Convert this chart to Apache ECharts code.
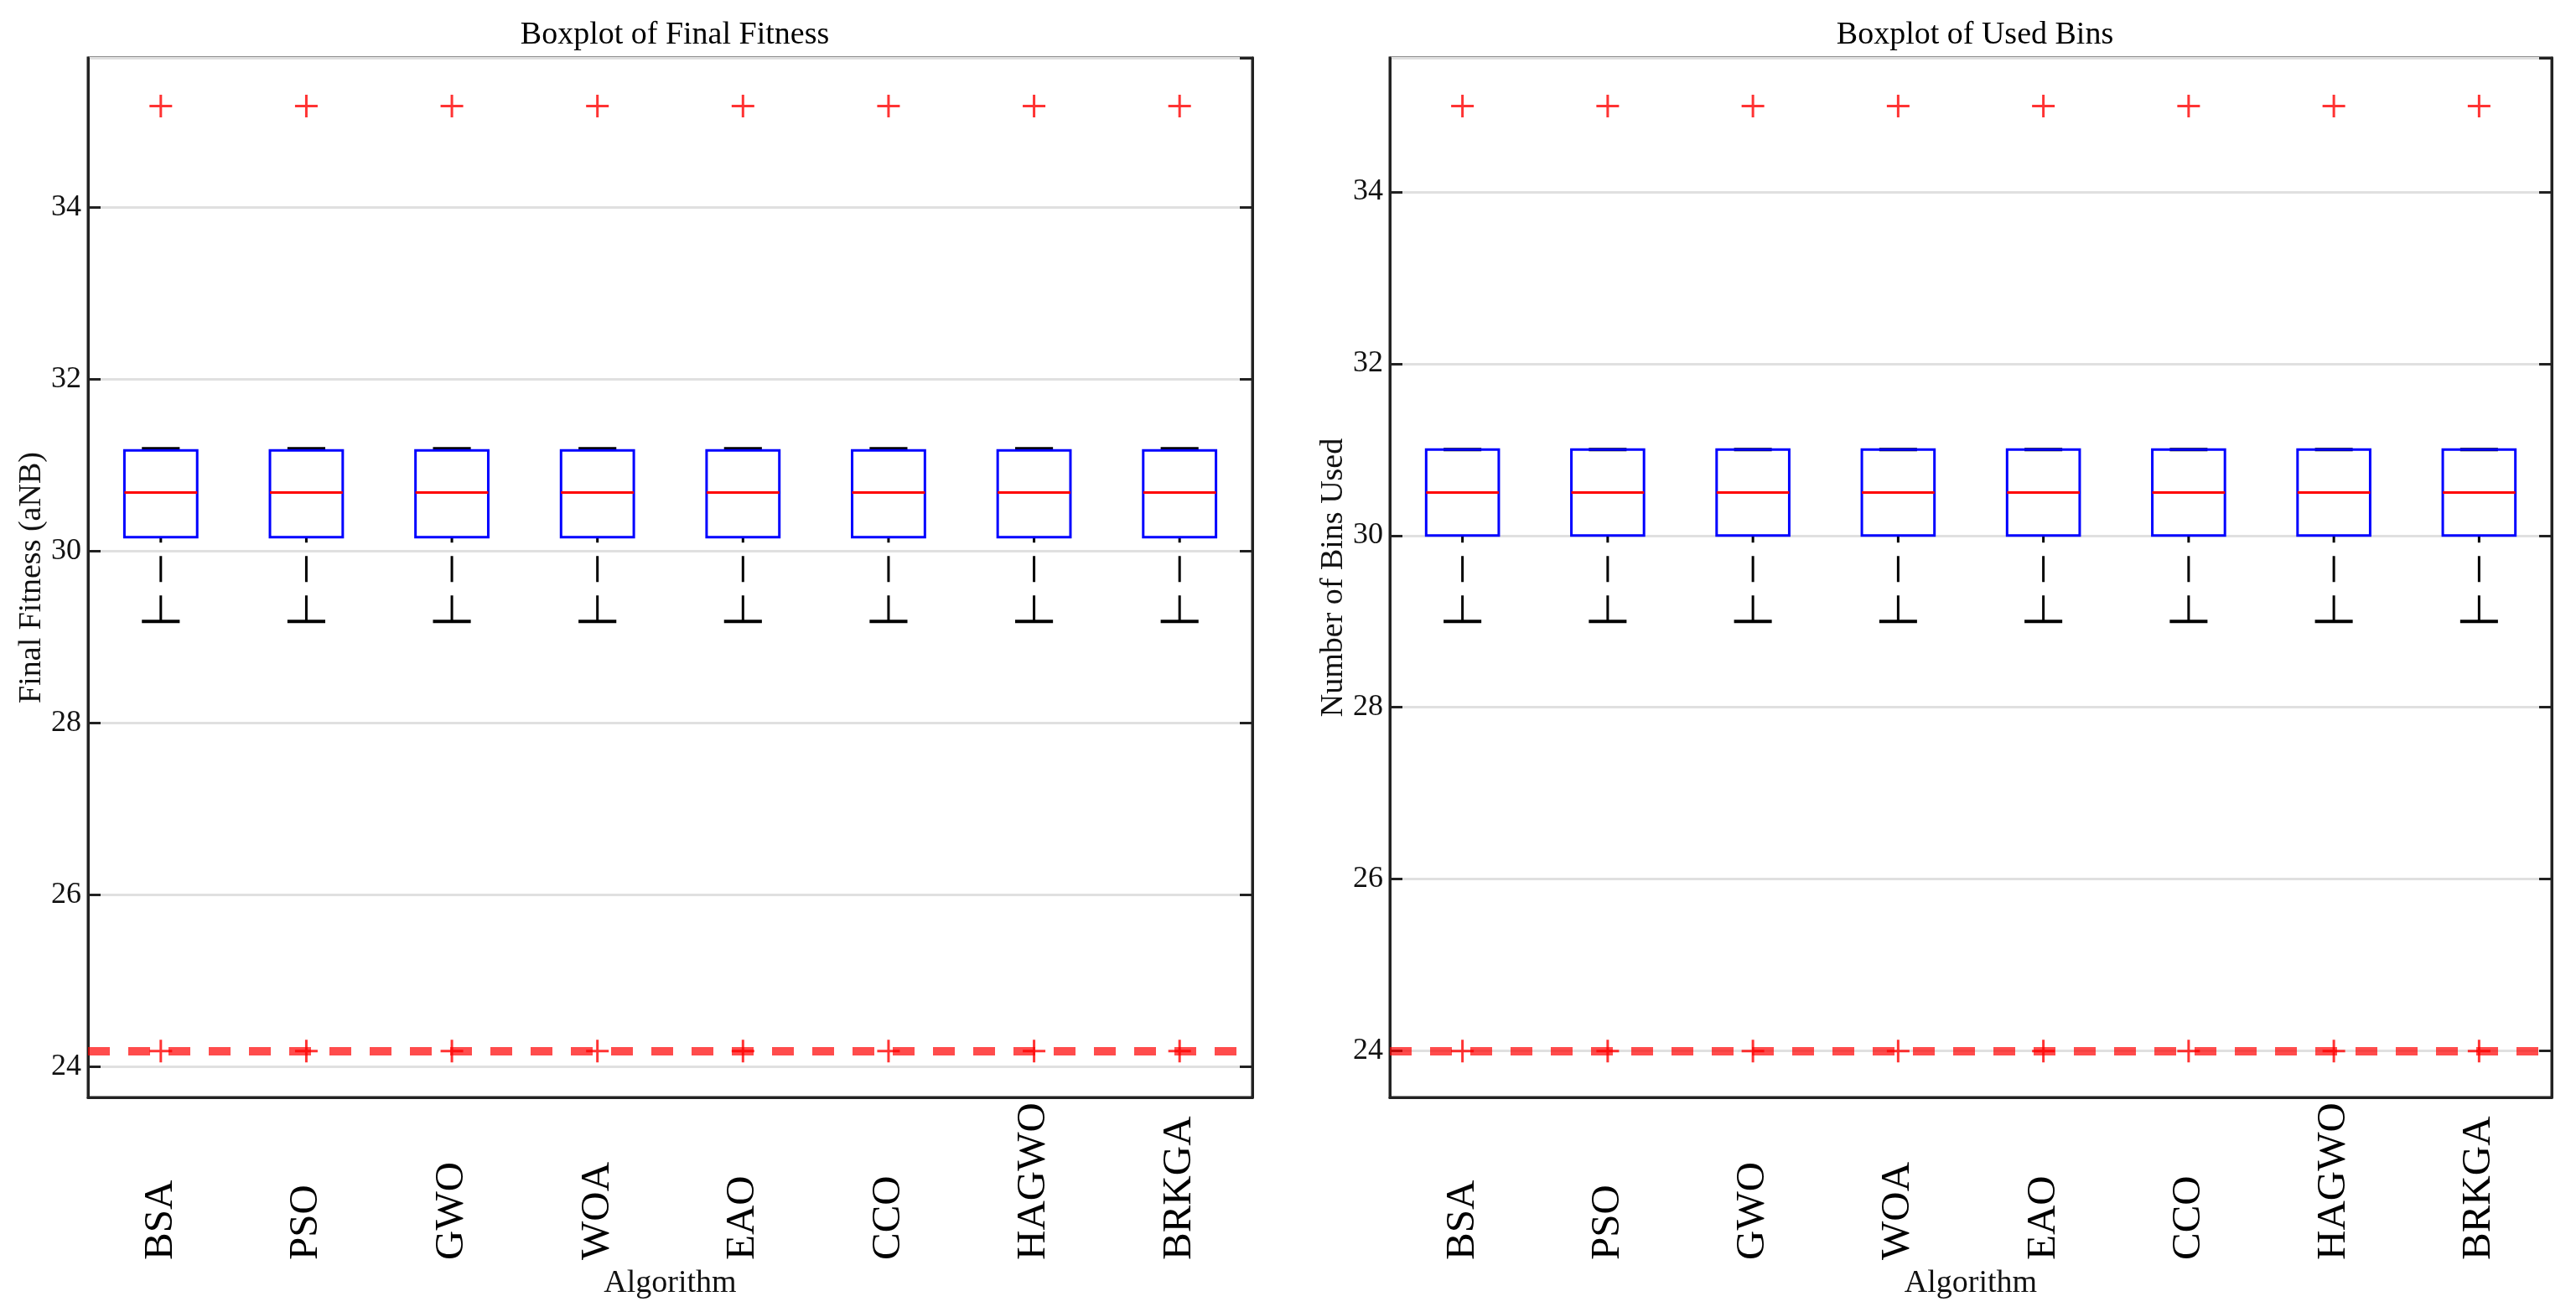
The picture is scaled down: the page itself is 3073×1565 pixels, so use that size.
<!DOCTYPE html>
<html>
<head>
<meta charset="utf-8">
<script src="https://cdn.jsdelivr.net/npm/echarts@6/dist/echarts.min.js"></script>
<style>
    html, body { margin: 0; padding: 0; background: #fff; }
    #chart { width: 3073px; height: 1565px; }
</style>
</head>
<body>
<div id="chart"></div>
<script>
var algorithms = ['BSA', 'PSO', 'GWO', 'WOA', 'EAO', 'CCO', 'HAGWO', 'BRKGA'];

// [lower whisker, q1, median, q3, upper whisker]
var fitnessBox = [
    [29.18, 30.16, 30.68, 31.17, 31.19],
    [29.18, 30.16, 30.68, 31.17, 31.19],
    [29.18, 30.16, 30.68, 31.17, 31.19],
    [29.18, 30.16, 30.68, 31.17, 31.19],
    [29.18, 30.16, 30.68, 31.17, 31.19],
    [29.18, 30.16, 30.68, 31.17, 31.19],
    [29.18, 30.16, 30.68, 31.17, 31.19],
    [29.18, 30.16, 30.68, 31.17, 31.19]
];
var fitnessOutHigh = [35.18, 35.18, 35.18, 35.18, 35.18, 35.18, 35.18, 35.18];
var fitnessOutLow = [24.18, 24.18, 24.18, 24.18, 24.18, 24.18, 24.18, 24.18];
var fitnessRef = 24.18;

var binsBox = [
    [29, 30, 30.5, 31, 31],
    [29, 30, 30.5, 31, 31],
    [29, 30, 30.5, 31, 31],
    [29, 30, 30.5, 31, 31],
    [29, 30, 30.5, 31, 31],
    [29, 30, 30.5, 31, 31],
    [29, 30, 30.5, 31, 31],
    [29, 30, 30.5, 31, 31]
];
var binsOutHigh = [35, 35, 35, 35, 35, 35, 35, 35];
var binsOutLow = [24, 24, 24, 24, 24, 24, 24, 24];
var binsRef = 24;

var fitnessRange = [23.64, 35.74];
var binsRange = [23.46, 35.56];

var FONT = '"Liberation Serif", "Times New Roman", serif';
var plusSymbol = 'path://M10,0L10,20M0,10L20,10';

function renderBox(params, api) {
    var idx = api.value(0);
    var lo = api.coord([idx, api.value(1)]);
    var q1 = api.coord([idx, api.value(2)]);
    var med = api.coord([idx, api.value(3)]);
    var q3 = api.coord([idx, api.value(4)]);
    var hi = api.coord([idx, api.value(5)]);
    var band = api.size([1, 0])[0];
    var half = band * 0.25;
    var cap = band * 0.13;
    var x = lo[0];
    var black = {stroke: '#000', lineWidth: 4};
    var dashed = {stroke: '#000', lineWidth: 3, lineDash: [31, 16]};
    return {
        type: 'group',
        children: [
            {type: 'line', shape: {x1: x - cap, y1: lo[1], x2: x + cap, y2: lo[1]}, style: black},
            {type: 'line', shape: {x1: x - cap, y1: hi[1], x2: x + cap, y2: hi[1]}, style: black},
            {type: 'line', shape: {x1: x, y1: lo[1], x2: x, y2: q1[1]}, style: dashed},
            {type: 'line', shape: {x1: x, y1: hi[1], x2: x, y2: q3[1]}, style: dashed},
            {
                type: 'rect',
                shape: {x: x - half, y: q3[1], width: half * 2, height: q1[1] - q3[1]},
                style: {fill: 'none', stroke: '#0000ff', lineWidth: 3}
            },
            {type: 'line', shape: {x1: x - half, y1: med[1], x2: x + half, y2: med[1]}, style: {stroke: '#ff0000', lineWidth: 3}}
        ]
    };
}

function makeXAxis(gridIndex) {
    return {
        type: 'category',
        gridIndex: gridIndex,
        data: algorithms,
        boundaryGap: true,
        name: 'Algorithm',
        nameLocation: 'middle',
        nameGap: 203,
        nameTextStyle: {fontFamily: FONT, fontSize: 38, color: '#111'},
        axisLine: {show: true, lineStyle: {color: '#222', width: 3}},
        axisTick: {show: false},
        axisLabel: {
            interval: 0,
            rotate: 90,
            margin: 194,
            align: 'left',
            verticalAlign: 'middle',
            fontFamily: FONT,
            fontSize: 49,
            color: '#000'
        },
        splitLine: {show: false}
    };
}

function makeYAxes(gridIndex, range, name) {
    return [{
        type: 'value',
        gridIndex: gridIndex,
        min: range[0],
        max: range[1],
        splitNumber: 6,
        name: name,
        nameLocation: 'middle',
        nameGap: 46,
        nameTextStyle: {fontFamily: FONT, fontSize: 38, color: '#111'},
        axisLine: {show: true, lineStyle: {color: '#222', width: 3}},
        axisTick: {show: true, inside: true, length: 15, lineStyle: {color: '#222', width: 3}},
        axisLabel: {
            margin: 8,
            showMinLabel: false,
            showMaxLabel: false,
            fontFamily: FONT,
            fontSize: 36,
            color: '#111'
        },
        splitLine: {show: true, lineStyle: {color: '#e0e0e0', width: 3}}
    }, {
        type: 'value',
        gridIndex: gridIndex,
        position: 'right',
        min: range[0],
        max: range[1],
        splitNumber: 6,
        axisLine: {show: true, lineStyle: {color: '#222', width: 3}},
        axisTick: {show: true, inside: true, length: 15, lineStyle: {color: '#222', width: 3}},
        axisLabel: {show: false},
        splitLine: {show: false}
    }];
}

function boxSeries(axisIndex, yIndex, box) {
    return {
        type: 'custom',
        xAxisIndex: axisIndex,
        yAxisIndex: yIndex,
        renderItem: renderBox,
        encode: {x: 0, y: [1, 2, 3, 4, 5]},
        z: 3,
        data: box.map(function (b, i) {
            return [i, b[0], b[1], b[2], b[3], b[4]];
        })
    };
}

function outlierSeries(axisIndex, yIndex, values, ref) {
    var s = {
        type: 'scatter',
        xAxisIndex: axisIndex,
        yAxisIndex: yIndex,
        symbol: plusSymbol,
        symbolSize: 27,
        itemStyle: {color: '#ff0000', borderColor: '#ff0000', borderWidth: 3},
        z: 4,
        silent: true,
        data: values.map(function (v, i) {
            return [i, v];
        })
    };
    if (ref !== undefined) {
        s.markLine = {
            silent: true,
            symbol: 'none',
            label: {show: false},
            lineStyle: {color: 'rgba(255, 0, 0, 0.7)', width: 10, type: [26, 22]},
            data: [{yAxis: ref}]
        };
    }
    return s;
}

var chart = echarts.init(document.getElementById('chart'));
var option = {
    animation: false,
    backgroundColor: '#fff',
    title: [{
        text: 'Boxplot of Final Fitness',
        left: 800,
        top: 18,
        textAlign: 'center',
        textStyle: {fontFamily: FONT, fontSize: 38, fontWeight: 'normal', color: '#000'}
    }, {
        text: 'Boxplot of Used Bins',
        left: 2351,
        top: 18,
        textAlign: 'center',
        textStyle: {fontFamily: FONT, fontSize: 38, fontWeight: 'normal', color: '#000'}
    }],
    grid: [
        {left: 105, top: 69, width: 1389, height: 1240, show: true, borderColor: '#222', borderWidth: 3},
        {left: 1658, top: 69, width: 1386, height: 1240, show: true, borderColor: '#222', borderWidth: 3}
    ],
    xAxis: [makeXAxis(0), makeXAxis(1)],
    yAxis: makeYAxes(0, fitnessRange, 'Final Fitness (aNB)').concat(makeYAxes(1, binsRange, 'Number of Bins Used')),
    series: [
        boxSeries(0, 0, fitnessBox),
        outlierSeries(0, 0, fitnessOutHigh),
        outlierSeries(0, 0, fitnessOutLow, fitnessRef),
        boxSeries(1, 2, binsBox),
        outlierSeries(1, 2, binsOutHigh),
        outlierSeries(1, 2, binsOutLow, binsRef)
    ]
};
chart.setOption(option);
</script>
</body>
</html>
